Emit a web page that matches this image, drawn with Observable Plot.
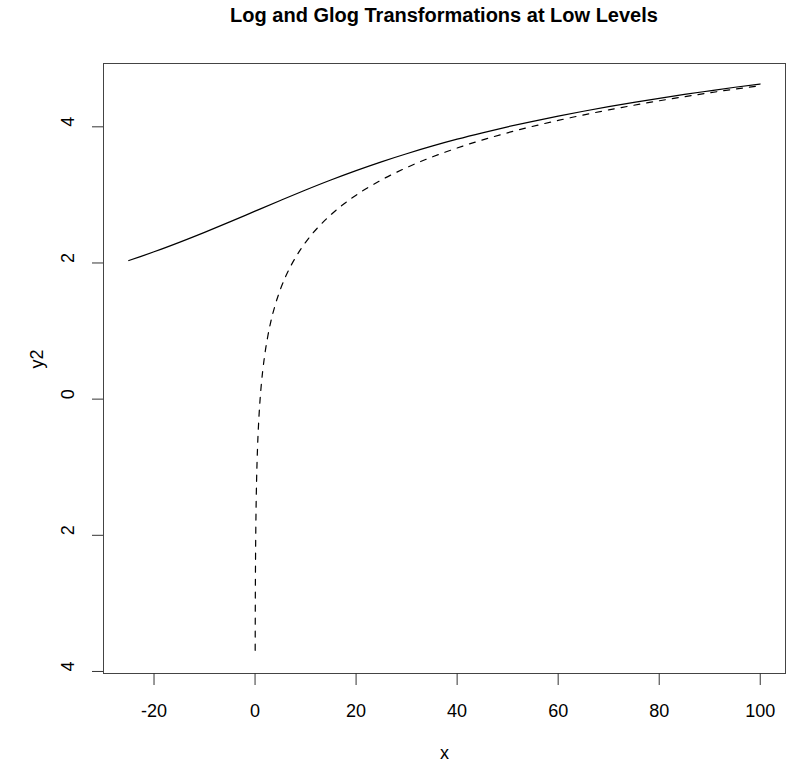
<!DOCTYPE html>
<html>
<head>
<meta charset="utf-8">
<script src="https://cdn.jsdelivr.net/npm/d3@7"></script>
<script src="https://cdn.jsdelivr.net/npm/@observablehq/plot@0.6"></script>
<style>
  body { margin: 0; background: #fff; font-family: "Liberation Sans", Arial, Helvetica, sans-serif; }
  #wrap { width: 787px; height: 773px; position: relative; }
  #title { height: 40px; box-sizing: border-box; padding-top: 5px; padding-left: 103px; width: 785px;
           text-align: center; font-weight: bold; font-size: 20px; line-height: 20px; color: #000; }
</style>
</head>
<body>
<div id="wrap">
  <div id="title">Log and Glog Transformations at Low Levels</div>
  <div id="chart"></div>
</div>
<script>
// glog curve (solid)
const glogX = [-25, -20, -15, -10, -5, 0, 5, 10, 15, 20, 25, 30, 35, 40, 45, 50, 55, 60, 65, 70, 75, 80, 85, 90, 95, 100];
const glogY = [2.036, 2.164, 2.303, 2.450, 2.603, 2.761, 2.918, 3.072, 3.219, 3.357, 3.486, 3.605, 3.716, 3.818, 3.912, 4.000, 4.081, 4.158, 4.229, 4.296, 4.359, 4.419, 4.476, 4.529, 4.581, 4.629];

// log curve (dashed), only defined for x > 0
const logX = [0.025, 0.05, 0.1, 0.15, 0.2, 0.3, 0.4, 0.5, 0.75, 1, 1.25, 1.5, 2, 2.5, 3, 4, 5, 6, 7, 8, 10, 12.5, 15, 20, 25, 30, 40, 50, 60, 70, 80, 90, 100];
const logY = [-3.689, -2.996, -2.303, -1.897, -1.609, -1.204, -0.916, -0.693, -0.288, 0, 0.223, 0.405, 0.693, 0.916, 1.099, 1.386, 1.609, 1.792, 1.946, 2.079, 2.303, 2.526, 2.708, 2.996, 3.219, 3.401, 3.689, 3.912, 4.094, 4.248, 4.382, 4.500, 4.605];

// axis ticks and the labels printed at them
const xTicks = [-20, 0, 20, 40, 60, 80, 100];
const yTicks = [-4, -2, 0, 2, 4];
const yTickLabels = ["4", "2", "0", "2", "4"];

const glog = glogX.map((x, i) => ({x, y: glogY[i]}));
const logData = logX.map((x, i) => ({x, y: logY[i]}));

const font = "Liberation Sans, Arial, Helvetica, sans-serif";

const chart = Plot.plot({
  width: 787,
  height: 733,
  marginLeft: 103,
  marginRight: 2,
  marginTop: 23,
  marginBottom: 100,
  style: {fontFamily: font, fontSize: "18px", color: "#000", background: "#fff"},
  x: {domain: [-30, 105]},
  y: {domain: [-4.03, 4.93]},
  marks: [
    Plot.frame({stroke: "#444", strokeWidth: 1}),
    Plot.axisX({ticks: xTicks, tickSize: 12, tickPadding: 19, fontSize: 18, tickFormat: d => String(d), label: null, stroke: "#333"}),
    Plot.axisY({ticks: yTicks, tickSize: 11, tickFormat: () => "", label: null, stroke: "#333"}),
    Plot.text(yTicks, {y: d => d, text: (d, i) => yTickLabels[i], frameAnchor: "left", dx: -35, rotate: -90, fontSize: 18, fill: "#000"}),
    Plot.text(["x"], {text: d => d, frameAnchor: "bottom", dy: 85, fontSize: 18, fill: "#000"}),
    Plot.text(["y2"], {text: d => d, frameAnchor: "left", dx: -66, rotate: -90, fontSize: 18, fill: "#000"}),
    Plot.line(glog, {x: "x", y: "y", curve: "monotone-x", stroke: "#000", strokeWidth: 1.2}),
    Plot.line(logData, {x: "x", y: "y", curve: "monotone-x", stroke: "#000", strokeWidth: 1.2, strokeDasharray: "6,7"})
  ]
});
document.getElementById("chart").appendChild(chart);
</script>
</body>
</html>
